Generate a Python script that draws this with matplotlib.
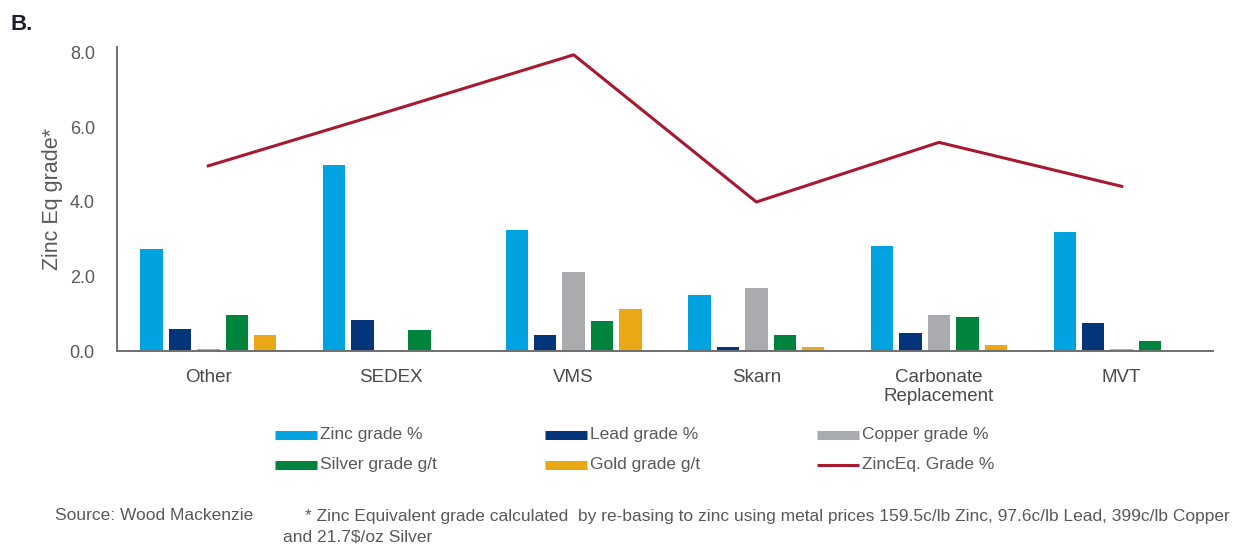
import matplotlib
matplotlib.use("Agg")
import matplotlib.pyplot as plt
import numpy as np
from matplotlib.lines import Line2D

plt.rcParams["font.family"] = ["Liberation Sans", "DejaVu Sans"]

categories = ["Other", "SEDEX", "VMS", "Skarn", "Carbonate\nReplacement", "MVT"]
zinc = [2.75, 5.0, 3.25, 1.51, 2.81, 3.19]
lead = [0.59, 0.84, 0.43, 0.11, 0.48, 0.75]
copper = [0.05, 0.0, 2.11, 1.68, 0.97, 0.05]
silver = [0.97, 0.57, 0.81, 0.43, 0.92, 0.27]
gold = [0.43, 0.0, 1.13, 0.11, 0.16, 0.0]
zinc_eq = [4.97, 6.45, 7.95, 4.0, 5.6, 4.42]
yticks = [0.0, 2.0, 4.0, 6.0, 8.0]

series = [
    ("Zinc grade %", zinc, "#00A3E0"),
    ("Lead grade %", lead, "#04357A"),
    ("Copper grade %", copper, "#AAABAE"),
    ("Silver grade g/t", silver, "#00843D"),
    ("Gold grade g/t", gold, "#EAA816"),
]
line_label = "ZincEq. Grade %"
line_color = "#A6192E"
text_gray = "#595959"

W, H = 1244, 545
fig = plt.figure(figsize=(W / 100, H / 100), dpi=100)
ax = fig.add_axes([117 / W, 1 - 351 / H, (1213 - 117) / W, (351 - 47) / H])

x = np.arange(len(categories))
pitch = 0.1555
width = 0.123
for i, (name, vals, col) in enumerate(series):
    ax.bar(x + (i - 2) * pitch, vals, width=width, color=col,
           linewidth=0, zorder=2)
ax.plot(x, zinc_eq, color=line_color, linewidth=2.2, zorder=3)

ax.set_xlim(-0.5, len(categories) - 0.5)
ax.set_ylim(0, 8.16)
ax.set_yticks(yticks)
ax.set_yticklabels([f"{v:.1f}" for v in yticks], fontsize=13, color=text_gray)
ax.set_xticks(x)
ax.set_xticklabels(categories, fontsize=13.5, color="#4a4a4a", linespacing=1.15)
ax.tick_params(axis="both", length=0)
ax.tick_params(axis="x", pad=13)
ax.tick_params(axis="y", pad=16)
for s in ["top", "right"]:
    ax.spines[s].set_visible(False)
for s in ["left", "bottom"]:
    ax.spines[s].set_color("#6f6f6f")
    ax.spines[s].set_linewidth(1.4)
    ax.spines[s].set_zorder(4)
ax.set_ylabel("Zinc Eq grade*", fontsize=15.5, color=text_gray, labelpad=5)

# legend laid out in three columns, two rows
entries = [(name, col, 6.5) for name, _, col in series] + [(line_label, line_color, 2.2)]
col_x = [275, 545, 817]
row_y = [435, 465]
for k, (lab, col, lw) in enumerate(entries):
    r, c = divmod(k, 3)
    x0 = col_x[c] / W
    y0 = 1 - row_y[r] / H
    fig.add_artist(Line2D([x0, x0 + 42 / W], [y0, y0], color=col,
                          linewidth=lw, solid_capstyle="butt"))
    fig.text(x0 + 45 / W, y0, lab, fontsize=12.5, color=text_gray,
             va="center", ha="left")

fig.text(10 / W, 1 - 24 / H, "B.", fontsize=16, fontweight="bold",
         color="#1d1d2b", va="center", ha="left")
fig.text(55 / W, 1 - 516 / H, "Source: Wood Mackenzie", fontsize=12.5,
         color=text_gray, va="center", ha="left")
fig.text(305 / W, 1 - 516 / H,
         "* Zinc Equivalent grade calculated  by re-basing to zinc using metal prices "
         "159.5c/lb Zinc, 97.6c/lb Lead, 399c/lb Copper",
         fontsize=12.5, color=text_gray, va="center", ha="left")
fig.text(283 / W, 1 - 537 / H, "and 21.7$/oz Silver", fontsize=12.5,
         color=text_gray, va="center", ha="left")

fig.savefig("out.png", dpi=100)
